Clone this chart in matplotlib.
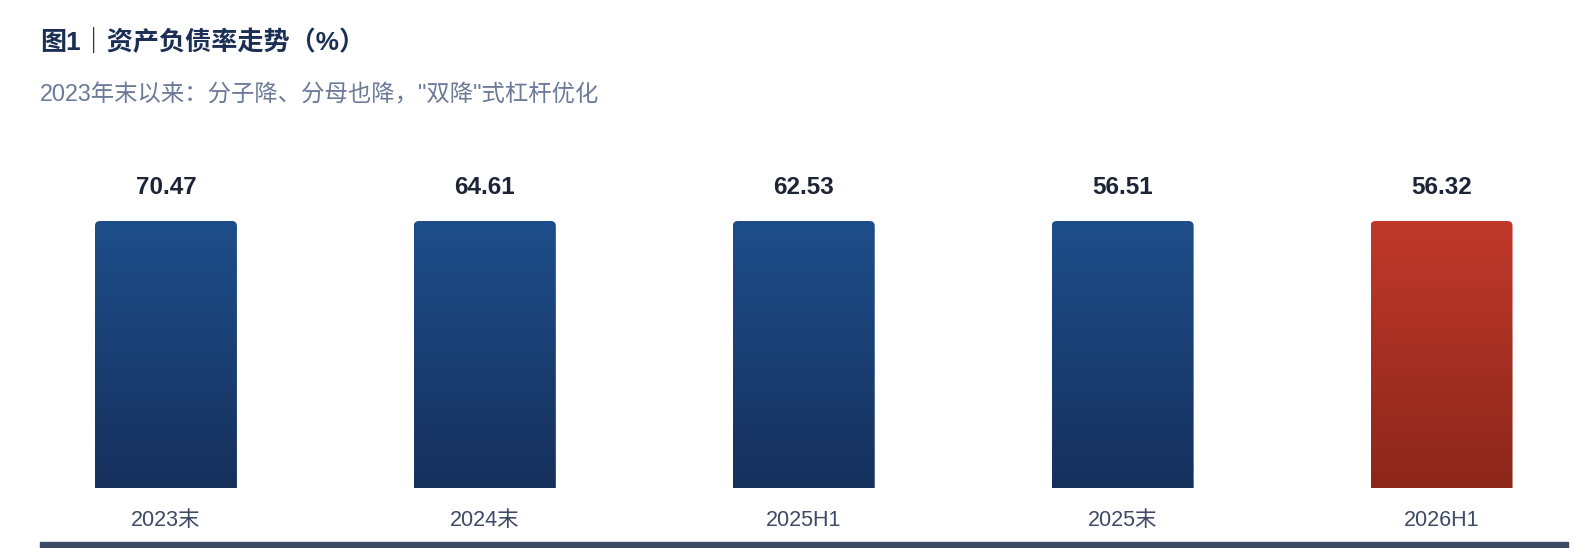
import numpy as np
import matplotlib.pyplot as plt
from matplotlib.colors import LinearSegmentedColormap
from matplotlib.patches import FancyBboxPatch, Rectangle

plt.rcParams['font.family'] = ['Liberation Sans', 'Noto Sans CJK SC', 'DejaVu Sans']

categories = ["2023末", "2024末", "2025H1", "2025末", "2026H1"]
debt_ratio = [70.47, 64.61, 62.53, 56.51, 56.32]
highlight = [False, False, False, False, True]
title = "图1｜资产负债率走势（%）"
subtitle = '2023年末以来：分子降、分母也降，"双降"式杠杆优化'

W, H = 1574, 548
fig = plt.figure(figsize=(W / 100, H / 100), dpi=100)

# the reference draws every bar at the same height, values only in the labels
ax = fig.add_axes([6.5 / W, 60 / H, (1601 - 6.5) / W, 267 / H])
ax.set_xlim(-0.5, len(categories) - 0.5)
ax.set_ylim(0, 1)
ax.axis('off')

blue = LinearSegmentedColormap.from_list('blue', ['#16305c', '#1e4e8a'])
red = LinearSegmentedColormap.from_list('red', ['#8c261b', '#c0392b'])
grad = np.linspace(0, 1, 256).reshape(-1, 1)

bw = 142 / 319
for i, (cat, val, hl) in enumerate(zip(categories, debt_ratio, highlight)):
    x0 = i - bw / 2
    patch = FancyBboxPatch((x0, -0.1), bw, 1.1,
                           boxstyle="round,pad=0,rounding_size=0.016",
                           mutation_aspect=319 / 267, fc='none', ec='none')
    ax.add_patch(patch)
    im = ax.imshow(grad, cmap=red if hl else blue, extent=[x0, x0 + bw, 0, 1],
                   origin='lower', aspect='auto')
    im.set_clip_path(patch)
    ax.annotate(f"{val:.2f}", (i, 1), xytext=(0, 34), textcoords='offset pixels',
                ha='center', va='center', fontsize=17.5, fontweight='bold',
                color='#1c2436', annotation_clip=False)
    ax.annotate(cat, (i, 0), xytext=(0, -32), textcoords='offset pixels',
                ha='center', va='center', fontsize=15.5, color='#3d4a66',
                annotation_clip=False)

ax.set_xlim(-0.5, len(categories) - 0.5)
ax.set_ylim(0, 1)

fig.text(40 / W, 1 - 42 / H, title, fontsize=18.8, fontweight='bold',
         color='#1b2f55', va='center', ha='left')
fig.text(40 / W, 1 - 95 / H, subtitle, fontsize=16.8, color='#6b7a99',
         va='center', ha='left')

fig.add_artist(Rectangle((40 / W, 0), (1568 - 40) / W, 6.5 / H,
                         transform=fig.transFigure, color='#3d4a66'))

fig.savefig("out.png", dpi=100)
